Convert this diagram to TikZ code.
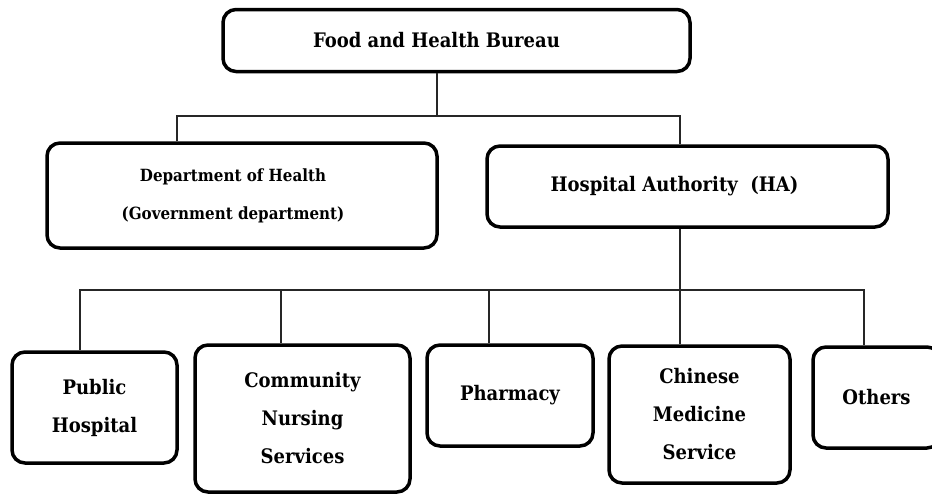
\documentclass[tikz,border=0pt]{standalone}
\usepackage{fontspec}
\newfontfamily\orgfont{DejaVu Serif}[FakeStretch=0.9]
\tikzset{
  orgbox/.style={draw, line width=3.5pt, rounded corners=13pt, inner sep=0pt,
    align=center, font=\orgfont\bfseries\fontsize{20}{38}\selectfont},
  link/.style={line width=1.2pt, draw=black!85}
}
\begin{document}
\begin{tikzpicture}[x=1pt, y=-1pt]
    \useasboundingbox (0,0) rectangle (932,493);
    \clip (0,0) rectangle (932,493);
    \node[orgbox, minimum width=467pt, minimum height=62pt,
      label={[xshift=-20pt, font=\orgfont\bfseries\fontsize{20}{24}\selectfont]center:Food and Health Bureau}]
      (fhb) at (456.5,40.5) {};
    \node[orgbox, minimum width=390pt, minimum height=105pt,
      font=\orgfont\bfseries\fontsize{16.8}{38}\selectfont]
      (doh) at (242,195.5) {\raisebox{-4pt}{\hspace*{-18pt}Department of Health}\\\raisebox{-4pt}{\hspace*{-18pt}(Government department)}};
    \node[orgbox, minimum width=401pt, minimum height=81pt,
      label={[xshift=-13pt, font=\orgfont\bfseries\fontsize{20}{24}\selectfont]center:Hospital Authority\ \ (HA)}]
      (ha) at (687.5,186.5) {};
    \node[orgbox, minimum width=165pt, minimum height=111pt] (pub) at (94.5,407.5) {Public\\Hospital};
    \node[orgbox, minimum width=215pt, minimum height=147pt] (cns) at (302.5,418.5) {Community\\Nursing\\Services};
    \node[orgbox, minimum width=166pt, minimum height=101pt] (pha) at (510,395.5) {Pharmacy};
    \node[orgbox, minimum width=181pt, minimum height=137pt] (cms) at (699.5,414.5) {Chinese\\Medicine\\Service};
    \node[orgbox, minimum width=127pt, minimum height=101pt] (oth) at (876.5,397.5) {Others};
    % upper level
    \coordinate (bus1) at (437,116);
    \draw[link] (fhb.south -| bus1) -- (bus1);
    \draw[link] ([xshift=-65pt]doh.north) |- (bus1) -| ([xshift=-7.5pt]ha.north);
    % lower level
    \coordinate (bus2) at (680,290);
    \draw[link] ([xshift=-7.5pt]ha.south) -- (bus2);
    \foreach \n/\dx in {pub/-14.5, cns/-21.5, pha/-21, cms/-19.5, oth/-12.5} {
      \draw[link] (bus2) -| ([xshift=\dx pt]\n.north);
    }
  \end{tikzpicture}
\end{document}
